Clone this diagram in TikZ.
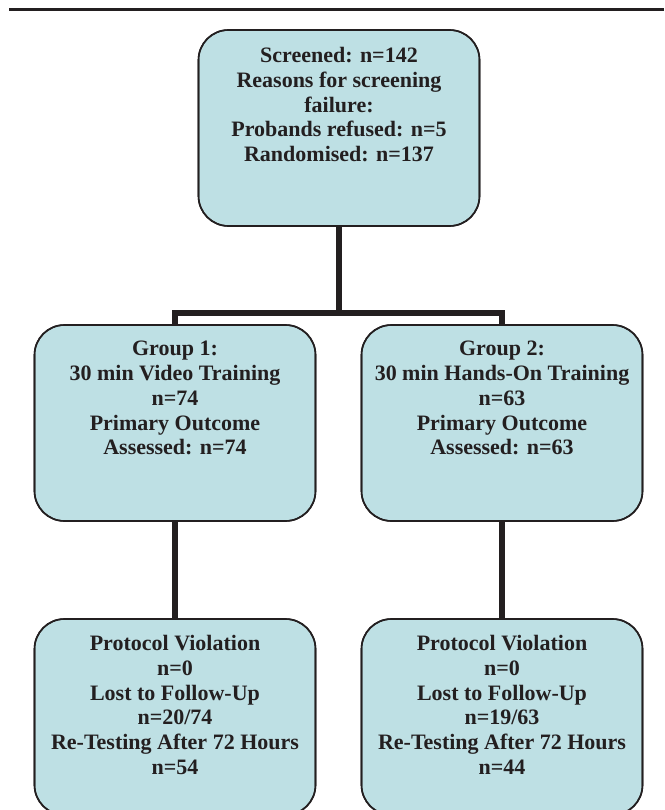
\documentclass[tikz,border=0pt]{standalone}
\usepackage{fontspec}
\setmainfont{Liberation Serif}
\definecolor{boxfill}{RGB}{190,224,228}
\definecolor{ink}{RGB}{35,31,32}
\tikzset{
  box/.style={draw=ink, line width=1.6pt, fill=boxfill, rounded corners=30pt,
              minimum width=281pt, minimum height=196pt, inner sep=0pt},
  txt/.style={anchor=north, align=center, inner sep=0pt, text=ink,
              font=\fontsize{22}{24.8}\selectfont\bfseries},
  conn/.style={draw=ink, line width=6pt}
}
\begin{document}
\begin{tikzpicture}[x=1pt,y=-1pt]
\useasboundingbox (0,0) rectangle (664,810);
\clip (0,0) rectangle (664,810);
\draw[ink, line width=3pt] (9,9.5) -- (664,9.5);
% boxes (shapes)
\node[box] (top) at (339,128) {};
\node[box] (g1) at (175,423) {};
\node[box] (g2) at (502,423) {};
\node[box] (b1) at (175,717) {};
\node[box] (b2) at (502,717) {};
\coordinate (split) at (339,313);
% connectors
\draw[conn] (top.south) -- (split);
\draw[conn] (g1.north) |- (split) -| (g2.north);
\draw[conn] (g1.south) -- (b1.north);
\draw[conn] (g2.south) -- (b2.north);
% redraw borders on top
\node[box, fill=none] at (top) {};
\node[box, fill=none] at (g1) {};
\node[box, fill=none] at (g2) {};
\node[box, fill=none] at (b1) {};
\node[box, fill=none] at (b2) {};
% texts
\node[txt] (toptxt) at (339,47) {Screened: n=142\\Reasons for screening\\failure:\\Probands refused: n=5\\Randomised: n=137};
\node[txt] (g1txt) at (175,341) {Group 1:\\30 min Video Training\\n=74\\Primary Outcome\\Assessed: n=74};
\node[txt] (g2txt) at (502,341) {Group 2:\\30 min Hands-On Training\\n=63\\Primary Outcome\\Assessed: n=63};
\node[txt] (b1txt) at (175,635) {Protocol Violation\\n=0\\Lost to Follow-Up\\n=20/74\\Re-Testing After 72 Hours\\n=54};
\node[txt] (b2txt) at (502,635) {Protocol Violation\\n=0\\Lost to Follow-Up\\n=19/63\\Re-Testing After 72 Hours\\n=44};
\end{tikzpicture}
\end{document}
